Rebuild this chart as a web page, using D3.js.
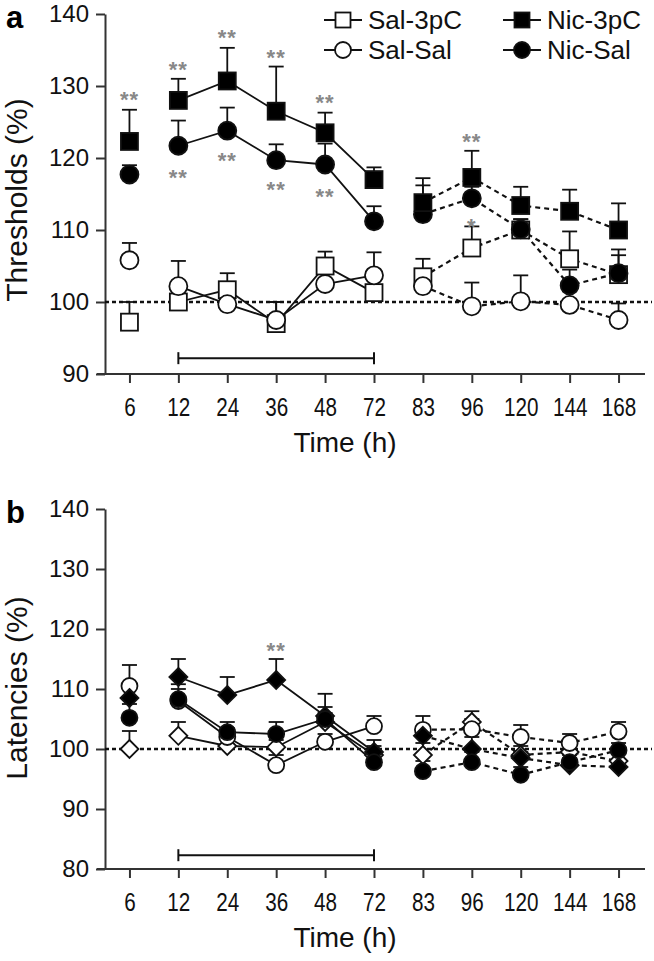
<!DOCTYPE html>
<html><head><meta charset="utf-8">
<script src="https://cdn.jsdelivr.net/npm/d3@7"></script>
<style>body{margin:0;background:#fff}svg{display:block}text{font-family:"Liberation Sans",Arial,sans-serif}</style>
</head><body><svg id="c" width="654" height="961"></svg>
<script>
const times = ["6","12","24","36","48","72","83","96","120","144","168"];
const yTicksA = [90,100,110,120,130,140];
const yTicksB = [80,90,100,110,120,130,140];
// Panel a: thresholds (%), mean and upper error
const aSal3pC = [97.2,100,101.7,97,105,101.3,103.5,107.5,110,106,103.8];
const aSal3pCErr = [100,101.5,104,100,107,103.2,106,110.5,111.5,109.8,106.5];
const aSalSal = [105.8,102.2,99.7,97.5,102.5,103.7,102.2,99.4,100.1,99.6,97.5];
const aSalSalErr = [108.2,105.7,102.5,100,104.5,106.9,104.5,102.7,103.7,101.5,99.8];
const aNic3pC = [122.3,128,130.7,126.5,123.5,117,113.8,117.3,113.4,112.6,110];
const aNic3pCErr = [126.7,131,135.3,132.7,126.3,118.7,117.2,121,116,115.6,113.7];
const aNicSal = [117.7,121.7,123.8,119.7,119.1,111.2,112.2,114.4,110.1,102.3,104];
const aNicSalErr = [119,125.2,127,121.9,122,113.3,116.2,116,111.5,104.5,107.3];
// Panel b: latencies (%)
const bSal3pC = [100,102.2,100.5,100.3,104.5,99,99,104.5,99,99.5,98];
const bSal3pCErr = [103,104.5,102,101.5,106,100.5,101,106.3,100.5,101,99.5];
const bSalSal = [110.5,108,102,97.3,101.2,103.8,103.2,103.3,102,101,102.9];
const bSalSalErr = [114,110,103.5,99,102.5,105.5,105.5,105,104,102.5,104.5];
const bNic3pC = [108.5,112,109,111.5,105.5,99.5,102.2,100,98.5,97.3,97];
const bNic3pCErr = [110,115,112,115,109.2,101.5,103.5,102,99.5,98.5,98];
const bNicSal = [105.2,108.3,102.8,102.5,105,97.8,96.3,97.8,95.7,97.8,99.8];
const bNicSalErr = [107.5,110.8,104.5,104.5,107,99.5,98,99.5,97,99,101];
// significance marks: [time, value (y position), text]
const starsA = [["6",128.3,"**"],["12",132.5,"**"],["24",137,"**"],["36",134.2,"**"],["48",127.9,"**"],
  ["12",117.5,"**"],["24",119.8,"**"],["36",115.8,"**"],["48",114.9,"**"],["96",122.5,"**"],["96",110.7,"*"]];
const starsB = [["36",116.6,"**"]];
const legendNames = ["Sal-3pC","Sal-Sal","Nic-3pC","Nic-Sal"];

const svg = d3.select("#c");
const x = d3.scalePoint().domain(times).range([105,643]).padding(0.5);

function panel(opt){
  const g = svg.append("g");
  const y = d3.scaleLinear().domain(opt.ydom).range(opt.yrange);
  const yAx = g.append("g").attr("transform","translate(105,0)")
    .call(d3.axisLeft(y).tickValues(opt.yticks).tickSize(9).tickSizeOuter(0).tickPadding(7));
  yAx.selectAll("text").attr("font-size",24).attr("fill","#111");
  yAx.selectAll("line,path").attr("stroke","#333").attr("stroke-width",2);
  const xAx = g.append("g").attr("transform",`translate(0,${opt.yrange[0]})`)
    .call(d3.axisBottom(x).tickSize(9).tickSizeOuter(0).tickPadding(15));
  xAx.select("path").attr("d",`M97,0H645`);
  xAx.selectAll("text").attr("font-size",26).attr("fill","#111")
    .attr("textLength",d=>d.length*11.5).attr("lengthAdjust","spacingAndGlyphs");
  xAx.selectAll("line,path").attr("stroke","#333").attr("stroke-width",2);
  g.append("text").attr("x",345).attr("y",opt.yrange[0]+78).attr("text-anchor","middle")
    .attr("font-size",28).attr("fill","#111").text("Time (h)");
  g.append("text").attr("transform",`translate(27,${opt.ytitleY}) rotate(-90)`)
    .attr("text-anchor","middle").attr("font-size",30).attr("fill","#111").text(opt.ytitle);
  g.append("text").attr("x",6).attr("y",opt.yrange[1]+14).attr("font-size",31).attr("font-weight","bold").text(opt.letter);
  // reference line at 100
  g.append("line").attr("x1",105).attr("x2",652).attr("y1",y(100)).attr("y2",y(100))
    .attr("stroke","#111").attr("stroke-width",2.4).attr("stroke-dasharray","4,3");
  // treatment bar
  const by = y(opt.barVal);
  g.append("line").attr("x1",x("12")).attr("x2",x("72")).attr("y1",by).attr("y2",by).attr("stroke","#111").attr("stroke-width",2);
  [x("12"),x("72")].forEach(px=>g.append("line").attr("x1",px).attr("x2",px).attr("y1",by-6).attr("y2",by+6).attr("stroke","#111").attr("stroke-width",2));
  const solid = times.slice(1,6), dashed = times.slice(6);
  const line = d3.line().x(d=>x(d.t)).y(d=>y(d.v));
  opt.series.forEach(s=>{
    const pts = times.map((t,i)=>({t,v:s.vals[i],e:s.err[i]}));
    g.append("path").datum(pts.filter(p=>solid.includes(p.t))).attr("d",line)
      .attr("fill","none").attr("stroke","#111").attr("stroke-width",1.8);
    g.append("path").datum(pts.filter(p=>dashed.includes(p.t))).attr("d",line)
      .attr("fill","none").attr("stroke","#111").attr("stroke-width",2.2).attr("stroke-dasharray","5,4");
  });
  opt.series.forEach(s=>{
    times.forEach((t,i)=>{
      const px = x(t), v = s.vals[i], e = s.err[i];
      g.append("line").attr("x1",px).attr("x2",px).attr("y1",y(v)).attr("y2",y(e)).attr("stroke","#111").attr("stroke-width",1.8);
      g.append("line").attr("x1",px-7.5).attr("x2",px+7.5).attr("y1",y(e)).attr("y2",y(e)).attr("stroke","#111").attr("stroke-width",1.8);
    });
  });
  opt.series.forEach(s=>{
    times.forEach((t,i)=>marker(g,s.shape,s.fill,x(t),y(s.vals[i]),opt.msize));
  });
  opt.stars.forEach(st=>{
    g.append("text").attr("x",x(st[0])).attr("y",y(st[1])+9).attr("text-anchor","middle")
      .attr("font-size",22).attr("font-weight","bold").attr("fill","#888").attr("letter-spacing",1).text(st[2]);
  });
  return y;
}
function marker(g,shape,filled,cx,cy,sz){
  const fill = filled ? "#000" : "#fff";
  if(shape==="square"){
    g.append("rect").attr("x",cx-sz/2).attr("y",cy-sz/2).attr("width",sz).attr("height",sz)
      .attr("fill",fill).attr("stroke","#111").attr("stroke-width",1.8);
  } else if(shape==="circle"){
    g.append("circle").attr("cx",cx).attr("cy",cy).attr("r",sz/2+0.5).attr("fill",fill).attr("stroke","#111").attr("stroke-width",1.8);
  } else {
    const r = sz/2+1.5;
    g.append("path").attr("d",`M${cx},${cy-r}L${cx+r},${cy}L${cx},${cy+r}L${cx-r},${cy}Z`)
      .attr("fill",fill).attr("stroke","#111").attr("stroke-width",1.8);
  }
}
panel({ydom:[90,140],yrange:[374,14],yticks:yTicksA,ytitle:"Thresholds (%)",ytitleY:200,letter:"a",barVal:92.2,msize:17,stars:starsA,
  series:[{vals:aSal3pC,err:aSal3pCErr,shape:"square",fill:false},
          {vals:aSalSal,err:aSalSalErr,shape:"circle",fill:false},
          {vals:aNicSal,err:aNicSalErr,shape:"circle",fill:true},
          {vals:aNic3pC,err:aNic3pCErr,shape:"square",fill:true}]});
panel({ydom:[80,140],yrange:[869,509],yticks:yTicksB,ytitle:"Latencies (%)",ytitleY:688,letter:"b",barVal:82.3,msize:15,stars:starsB,
  series:[{vals:bSal3pC,err:bSal3pCErr,shape:"diamond",fill:false},
          {vals:bSalSal,err:bSalSalErr,shape:"circle",fill:false},
          {vals:bNic3pC,err:bNic3pCErr,shape:"diamond",fill:true},
          {vals:bNicSal,err:bNicSalErr,shape:"circle",fill:true}]});
// legend
const lg = svg.append("g");
const legPos = [[324,20,"square",false],[324,50,"circle",false],[503,20,"square",true],[503,50,"circle",true]];
legPos.forEach((p,i)=>{
  lg.append("line").attr("x1",p[0]).attr("x2",p[0]+38).attr("y1",p[1]).attr("y2",p[1]).attr("stroke","#111").attr("stroke-width",2);
  marker(lg,p[2],p[3],p[0]+19,p[1],15);
  lg.append("text").attr("x",p[0]+44).attr("y",p[1]+9).attr("font-size",26).attr("fill","#111").text(legendNames[i]);
});
</script></body></html>
